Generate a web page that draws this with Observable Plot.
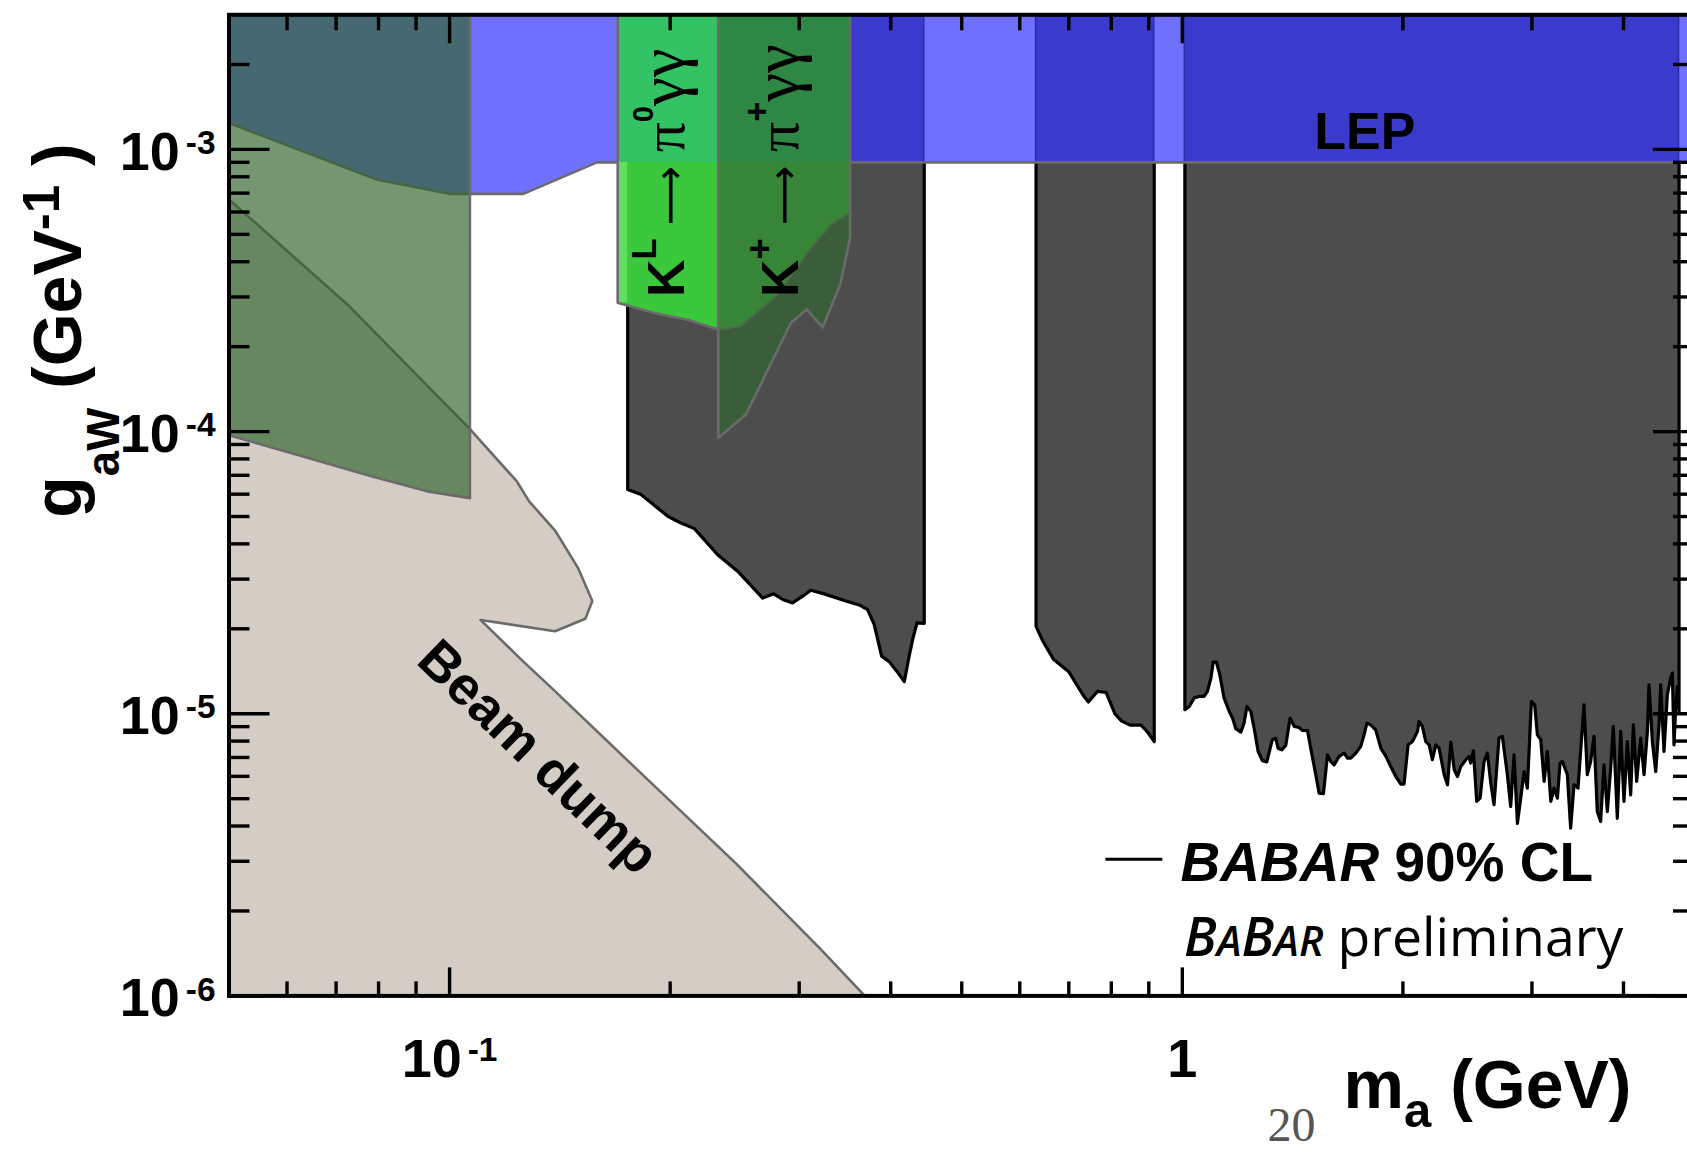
<!DOCTYPE html>
<html><head><meta charset="utf-8">
<script src="https://cdn.jsdelivr.net/npm/d3@7"></script>
<script src="https://cdn.jsdelivr.net/npm/@observablehq/plot@0.6"></script>
<style>
html,body{margin:0;padding:0;background:#fff;overflow:hidden;}
#chart svg{display:block;max-width:none;}
</style>
</head><body><div id="chart"></div>
<script>
// ---------------- data (m_a in GeV, g_aW in GeV^-1) ----------------
const xDomain = [0.05, 5.0];
const yDomain = [1e-6, 3e-3];

const xMajor = [0.1, 1];
const xMinor = [0.06, 0.07, 0.08, 0.09, 0.2, 0.3, 0.4, 0.5, 0.6, 0.7, 0.8, 0.9, 2, 3, 4];
const xTickLabels = ["10^-1", "1"];
const yMajor = [1e-6, 1e-5, 1e-4, 1e-3];
const yMinor = [2e-6,3e-6,4e-6,5e-6,6e-6,7e-6,8e-6,9e-6,2e-5,3e-5,4e-5,5e-5,6e-5,7e-5,8e-5,9e-5,2e-4,3e-4,4e-4,5e-4,6e-4,7e-4,8e-4,9e-4,2e-3];
const yTickLabels = ["10^-6", "10^-5", "10^-4", "10^-3"];

// LEP exclusion, lower edge
const lepMass = [0.05, 0.0794, 0.1, 0.1066, 0.1261, 0.1589, 5.0];
const lepCoupling = [1.24e-3, 7.83e-4, 6.96e-4, 6.96e-4, 6.96e-4, 9.0e-4, 9.0e-4];

// green (upper-left) exclusion, lower edge
const greenMass = [0.05, 0.0782, 0.0932, 0.1066];
const greenCoupling = [9.71e-5, 6.94e-5, 6.14e-5, 5.81e-5];

// beam dump outline
const beamMass = [0.05, 0.073, 0.1066, 0.1235, 0.1284, 0.1393, 0.1497, 0.1566, 0.1532, 0.1393, 0.1102, 0.1261, 0.138, 0.1841, 0.2459, 0.3221, 0.3687, 0.05];
const beamCoupling = [6.65e-4, 2.78e-4, 1.02e-4, 6.67e-5, 5.66e-5, 4.46e-5, 3.29e-5, 2.51e-5, 2.17e-5, 1.96e-5, 2.15e-5, 1.53e-5, 1.23e-5, 6.02e-6, 2.95e-6, 1.45e-6, 1e-6, 1e-6];

// K_L -> pi0 gamma gamma, lower edge
const klMass = [0.1696, 0.1903, 0.2113, 0.2326];
const klCoupling = [2.86e-4, 2.63e-4, 2.49e-4, 2.30e-4];
// K_L limit continuing under the K+ band
const klTailMass = [0.2326, 0.2498, 0.2804, 0.3112, 0.3315, 0.352];
const klTailCoupling = [2.30e-4, 2.36e-4, 3.06e-4, 4.48e-4, 5.42e-4, 5.96e-4];
// K+ -> pi+ gamma gamma, lower edge
const kpMass = [0.2326, 0.2538, 0.2923, 0.3071, 0.3229, 0.3413, 0.352];
const kpCoupling = [9.49e-5, 1.15e-4, 2.43e-4, 2.71e-4, 2.34e-4, 3.32e-4, 4.86e-4];

// BABAR 90% CL limit, three mass windows
const babar1Mass = [0.175,0.1825,0.1985,0.2069,0.2158,0.2322,0.2472,0.2675,0.2769,0.2849,0.2938,0.3033,0.3112,0.3246,0.3456,0.3623,0.3719,0.3798,0.3887,0.3981,0.4097,0.4174,0.4232,0.4285,0.4344,0.4444];
const babar1Coupling = [6.23e-5,5.98e-5,5.01e-5,4.74e-5,4.53e-5,3.66e-5,3.20e-5,2.57e-5,2.66e-5,2.54e-5,2.47e-5,2.61e-5,2.74e-5,2.66e-5,2.52e-5,2.43e-5,2.34e-5,2.07e-5,1.60e-5,1.53e-5,1.39e-5,1.30e-5,1.57e-5,1.83e-5,2.10e-5,2.09e-5];
const babar2Mass = [0.6315,0.6444,0.6669,0.6998,0.7145,0.7343,0.7445,0.7655,0.787,0.809,0.8256,0.8487,0.8784,0.8969,0.9155];
const babar2Coupling = [2.04e-5,1.82e-5,1.56e-5,1.41e-5,1.29e-5,1.15e-5,1.10e-5,1.20e-5,1.19e-5,1.00e-5,9.43e-6,9.11e-6,9.11e-6,8.60e-6,7.96e-6];
const babar3Mass = [1.008,1.022,1.038,1.054,1.071,1.082,1.094,1.102,1.113,1.125,
1.140,1.159,1.171,1.183,1.202,1.214,1.225,1.240,1.253,1.269,
1.286,1.304,1.318,1.327,1.341,1.351,1.367,1.384,1.403,1.421,
1.443,1.458,1.482,1.497,1.521,1.537,1.558,1.578,1.594,1.611,
1.637,1.663,1.680,1.698,1.725,1.752,1.770,1.786,1.807,1.836,
1.866,1.896,1.925,1.956,1.987,2.007,2.033,2.061,2.094,2.104,
2.126,2.149,2.172,2.194,2.218,2.241,2.277,2.301,2.325,2.350,
2.374,2.399,2.437,2.462,2.475,2.496,2.522,2.549,2.581,2.608,
2.636,2.663,2.705,2.734,2.777,2.806,2.836,2.866,2.896,2.927,
2.957,2.995,3.026,3.052,3.084,3.117,3.149,3.183,3.216,3.250,
3.277,3.301,3.353,3.388,3.424,3.467,3.533,3.570,3.608,3.646,
3.684,3.723,3.762,3.802,3.842,3.874,3.923,3.965,4.006,4.049,
4.091,4.126,4.169,4.222,4.267,4.312,4.334,4.380,4.426,4.473,
4.496,4.543,4.591,4.639,4.664,4.688,4.713,4.738,4.763];
const babar3Coupling = [1.033e-5,1.061e-5,1.137e-5,1.152e-5,1.152e-5,1.200e-5,1.338e-5,1.525e-5,1.525e-5,1.375e-5,
1.137e-5,1.019e-5,9.65e-6,8.85e-6,8.61e-6,9.26e-6,1.061e-5,1.019e-5,8.90e-6,7.35e-6,
6.82e-6,6.75e-6,7.55e-6,8.09e-6,8.20e-6,7.55e-6,7.45e-6,7.72e-6,9.65e-6,9.02e-6,
8.94e-6,8.73e-6,8.71e-6,7.55e-6,6.08e-6,5.23e-6,5.21e-6,7.15e-6,6.78e-6,6.59e-6,
7.06e-6,7.25e-6,6.96e-6,6.96e-6,7.25e-6,7.66e-6,8.42e-6,9.26e-6,9.14e-6,8.77e-6,
7.55e-6,7.06e-6,6.50e-6,5.99e-6,5.63e-6,5.63e-6,7.76e-6,7.97e-6,8.66e-6,9.39e-6,
9.02e-6,7.97e-6,7.76e-6,6.87e-6,7.76e-6,7.55e-6,6.08e-6,5.60e-6,7.93e-6,6.33e-6,
5.99e-6,6.50e-6,6.87e-6,7.06e-6,6.69e-6,7.39e-6,4.89e-6,5.02e-6,6.78e-6,7.25e-6,
5.68e-6,4.76e-6,8.20e-6,8.31e-6,6.08e-6,4.69e-6,7.15e-6,4.09e-6,5.02e-6,6.24e-6,
5.45e-6,1.106e-5,1.076e-5,8.42e-6,8.09e-6,5.76e-6,7.35e-6,4.89e-6,5.45e-6,5.02e-6,
6.69e-6,6.78e-6,6.08e-6,3.93e-6,5.60e-6,5.45e-6,1.076e-5,6.08e-6,6.78e-6,8.31e-6,
4.50e-6,4.15e-6,6.59e-6,4.50e-6,6.41e-6,9.02e-6,4.26e-6,8.66e-6,4.89e-6,7.97e-6,
5.16e-6,9.14e-6,5.76e-6,8.20e-6,6.08e-6,8.66e-6,1.267e-5,7.97e-6,6.24e-6,9.14e-6,
1.267e-5,7.35e-6,1.168e-5,1.338e-5,1.393e-5,7.76e-6,1.047e-5,1.249e-5,1.019e-5];

// annotation anchors (data coordinates)
const lepLabelAt = {x: 1.774, y: 1.0e-3};
const beamLabelAt = {x: 0.132, y: 7.0e-6};
const klLabelAt = {x: 0.2089, y: 3.0e-4};
const kpLabelAt = {x: 0.2988, y: 3.0e-4};
const legendLine = {x1: 0.7865, x2: 0.9406, y: 3.05e-6};

// ---------------- layout ----------------
const W = 1700, H = 1152;
const mL = 228.5, mR = 6, mT = 14.3, mB = 156.6;
const fw = W - mL - mR, fh = H - mT - mB;
const TOP = yDomain[1];
const SANS = "'Liberation Sans', Arimo, Arial, Helvetica, sans-serif";
const SERIF = "'Liberation Serif', 'DejaVu Serif', serif";
const ARROW = "'DejaVu Sans', sans-serif";
const AVENIR = "'Open Sans', Lato, 'Noto Sans', sans-serif";

const pts = (xs, ys) => xs.map((x, i) => ({x, y: ys[i]}));
const toTop = (xs, ys) => [{x: xs[0], y: TOP}, ...pts(xs, ys), {x: xs[xs.length - 1], y: TOP}];
const lepLevel = lepCoupling[lepCoupling.length - 1];

const babarSegs = [[babar1Mass, babar1Coupling], [babar2Mass, babar2Coupling], [babar3Mass, babar3Coupling]];
const babarBands = babarSegs.map(([m]) => ({x1: m[0], x2: m[m.length - 1]}));

const greenPoly = [{x: greenMass[0], y: TOP}, {x: greenMass[greenMass.length - 1], y: TOP}, ...pts(greenMass, greenCoupling).reverse()];
const klPoly = toTop(klMass, klCoupling);
const kpPoly = toTop(kpMass, kpCoupling);
const kpDark = [...pts(klTailMass, klTailCoupling), ...pts(kpMass, kpCoupling).reverse()];

// rich text registry
const RICH = {};
const rk = (key, segs) => { RICH[key] = segs; return key; };

const klKey = rk("KL->pi0gg", [
  {t: "K", weight: "bold"}, {t: "L", size: 0.66, shift: -0.54, weight: "bold"},
  {t: " \u27f6 ", weight: "normal", family: ARROW, size: 0.8},
  {t: "\u03c0", weight: "normal", family: SERIF, size: 1.15}, {t: "0", size: 0.56, shift: -0.6, weight: "bold"},
  {t: "\u03b3\u03b3", weight: "normal", family: SERIF, size: 1.25}
]);
const kpKey = rk("K+->pi+gg", [
  {t: "K", weight: "bold"}, {t: "+", size: 0.7, shift: -0.5, weight: "bold"},
  {t: " \u27f6 ", weight: "normal", family: ARROW, size: 0.8},
  {t: "\u03c0", weight: "normal", family: SERIF, size: 1.15}, {t: "+", size: 0.66, shift: -0.55, weight: "bold"},
  {t: "\u03b3\u03b3", weight: "normal", family: SERIF, size: 1.25}
]);
const yTitleKey = rk("g_aW (GeV^-1 )", [
  {t: "g"}, {t: "aW", size: 0.67, shift: 0.57}, {t: " (GeV"}, {t: "-1", size: 0.75, shift: -0.31}, {t: " )"}
]);
const xTitleKey = rk("m_a (GeV)", [{t: "m"}, {t: "a", size: 0.72, shift: 0.29}, {t: " (GeV)"}]);
const leg1Key = rk("BABAR 90% CL", [{t: "BABAR", style: "italic"}, {t: " 90% CL"}]);
const leg2Key = rk("BaBar preliminary", [
  {t: "B", style: "italic", weight: 600}, {t: "A", style: "italic", weight: 600, size: 0.78},
  {t: "B", style: "italic", weight: 600}, {t: "AR", style: "italic", weight: 600, size: 0.78},
  {t: " preliminary", weight: 500}
]);

const xTicks = xMajor.map((v, i) => ({v, label: xTickLabels[i]}));
const yTicks = yMajor.map((v, i) => ({v, label: yTickLabels[i]}));
const tickStyle = {stroke: "#000", strokeWidth: 3.4};
const edge = {stroke: "#6b6b6b", strokeWidth: 2.6};

const marks = [
  // beam dump
  Plot.line(pts(beamMass, beamCoupling), {x: "x", y: "y", curve: "linear-closed", fill: "#d3cdc6", ...edge, clip: true}),
  // BABAR excluded regions
  ...babarSegs.map(([m, c]) => Plot.line(toTop(m, c), {x: "x", y: "y", curve: "linear-closed", fill: "#4d4d4d", stroke: "#000", strokeWidth: 3.2, clip: true})),
  // LEP band
  Plot.areaY(pts(lepMass, lepCoupling), {x: "x", y1: "y", y2: TOP, fill: "#7070ff", clip: true}),
  Plot.rect(babarBands, {x1: "x1", x2: "x2", y1: lepLevel, y2: TOP, fill: "#3a3acc", stroke: "#2c2ca8", strokeWidth: 1.5, clip: true}),
  Plot.line(pts(lepMass, lepCoupling), {x: "x", y: "y", ...edge, clip: true}),
  // green translucent region (upper left)
  Plot.line(greenPoly, {x: "x", y: "y", curve: "linear-closed", fill: "rgb(50,101,45)", fillOpacity: 0.68, ...edge, clip: true}),
  // K_L band
  Plot.line(klPoly, {x: "x", y: "y", curve: "linear-closed", fill: "#3cc83c", clip: true}),
  Plot.rect([{x1: klMass[0], x2: klMass[klMass.length - 1]}], {x1: "x1", x2: "x2", y1: lepLevel, y2: TOP, fill: "#33c264", clip: true}),
  Plot.rect([{x1: klMass[0], x2: babar1Mass[0]}], {x1: "x1", x2: "x2", y1: klCoupling[0], y2: lepLevel, fill: "#5ee05e", clip: true}),
  Plot.line(klPoly, {x: "x", y: "y", curve: "linear-closed", fill: "none", ...edge, clip: true}),
  // K+ band
  Plot.line(kpPoly, {x: "x", y: "y", curve: "linear-closed", fill: "#378637", clip: true}),
  Plot.line(kpDark, {x: "x", y: "y", curve: "linear-closed", fill: "#3a5e3a", stroke: "#4a6a4a", strokeWidth: 2, clip: true}),
  Plot.rect([{x1: kpMass[0], x2: kpMass[kpMass.length - 1]}], {x1: "x1", x2: "x2", y1: lepLevel, y2: TOP, fill: "#2e8745", clip: true}),
  Plot.line(kpPoly, {x: "x", y: "y", curve: "linear-closed", fill: "none", ...edge, clip: true}),
  // region labels
  Plot.text([lepLabelAt], {x: "x", y: "y", text: () => "LEP", fontFamily: SANS, fontWeight: "bold", fontSize: 52, textAnchor: "middle", lineAnchor: "bottom"}),
  Plot.text([beamLabelAt], {x: "x", y: "y", text: () => "Beam dump", fontFamily: SANS, fontWeight: "bold", fontSize: 54, rotate: 44, textAnchor: "middle", lineAnchor: "middle"}),
  Plot.text([klLabelAt], {x: "x", y: "y", text: () => klKey, fontFamily: SANS, fontWeight: "bold", fontSize: 52, rotate: -90, textAnchor: "start", lineAnchor: "bottom"}),
  Plot.text([kpLabelAt], {x: "x", y: "y", text: () => kpKey, fontFamily: SANS, fontWeight: "bold", fontSize: 52, rotate: -90, textAnchor: "start", lineAnchor: "bottom"}),
  // legend
  Plot.ruleY([legendLine], {y: "y", x1: "x1", x2: "x2", stroke: "#000", strokeWidth: 3}),
  Plot.text([leg1Key], {text: d => d, frameAnchor: "top-left", dx: 951.5, dy: 866, fontFamily: SANS, fontWeight: "bold", fontSize: 55, textAnchor: "start", lineAnchor: "bottom"}),
  Plot.text([leg2Key], {text: d => d, frameAnchor: "top-left", dx: 955, dy: 941, fontFamily: AVENIR, fontSize: 53.5, textAnchor: "start", lineAnchor: "bottom"}),
  // ticks (inward, all four sides)
  Plot.ruleX(xMajor, {x: d => d, insetTop: fh - 28, ...tickStyle}),
  Plot.ruleX(xMinor, {x: d => d, insetTop: fh - 14, ...tickStyle}),
  Plot.ruleX(xMajor, {x: d => d, insetBottom: fh - 29, ...tickStyle}),
  Plot.ruleX(xMinor, {x: d => d, insetBottom: fh - 16, ...tickStyle}),
  Plot.ruleY(yMajor, {y: d => d, insetRight: fw - 41, ...tickStyle}),
  Plot.ruleY(yMinor, {y: d => d, insetRight: fw - 21, ...tickStyle}),
  Plot.ruleY(yMajor, {y: d => d, insetLeft: fw - 41, ...tickStyle}),
  Plot.ruleY(yMinor, {y: d => d, insetLeft: fw - 21, ...tickStyle}),
  Plot.frame({stroke: "#000", strokeWidth: 4}),
  // tick labels
  Plot.text(xTicks, {x: "v", text: "label", frameAnchor: "bottom", dy: 80.6, textAnchor: "middle", lineAnchor: "bottom", fontFamily: SANS, fontWeight: "bold", fontSize: 54}),
  Plot.text(yTicks, {y: "v", text: "label", frameAnchor: "left", dx: -13.5, dy: 3, textAnchor: "end", lineAnchor: "middle", fontFamily: SANS, fontWeight: "bold", fontSize: 54}),
  // axis titles
  Plot.text([yTitleKey], {text: d => d, frameAnchor: "top-left", dx: -148.5, dy: 315.7, rotate: -90, textAnchor: "middle", lineAnchor: "bottom", fontFamily: SANS, fontWeight: "bold", fontSize: 68}),
  Plot.text([xTitleKey], {text: d => d, frameAnchor: "top-left", dx: 1402.5, dy: 1092.7, textAnchor: "end", lineAnchor: "bottom", fontFamily: SANS, fontWeight: "bold", fontSize: 68}),
  // slide page number
  Plot.text(["20"], {text: d => d, frameAnchor: "top-left", dx: 1062.5, dy: 1125.7, textAnchor: "middle", lineAnchor: "bottom", fontFamily: SERIF, fontSize: 48, fill: "#555"})
];

const plot = Plot.plot({
  width: W, height: H,
  marginLeft: mL, marginRight: mR, marginTop: mT, marginBottom: mB,
  x: {type: "log", domain: xDomain, axis: null},
  y: {type: "log", domain: yDomain, axis: null},
  style: {background: "white", maxWidth: "none", overflow: "hidden"},
  marks
});
document.getElementById("chart").appendChild(plot);

// ---------------- rich text (sub/superscripts) ----------------
const NS = "http://www.w3.org/2000/svg";
function applyRich(t, segs) {
  const base = parseFloat(getComputedStyle(t).fontSize) || 10;
  t.textContent = "";
  t.style.whiteSpace = "pre";
  let cur = 0;
  for (const s of segs) {
    const ts = document.createElementNS(NS, "tspan");
    const off = (s.shift || 0) * base;
    if (off - cur !== 0) ts.setAttribute("dy", (off - cur).toFixed(2));
    cur = off;
    ts.setAttribute("font-size", ((s.size || 1) * base).toFixed(2));
    if (s.weight !== undefined) ts.setAttribute("font-weight", s.weight);
    if (s.style) ts.setAttribute("font-style", s.style);
    if (s.family) ts.setAttribute("font-family", s.family);
    if (s.dx) ts.setAttribute("dx", (s.dx * base).toFixed(2));
    ts.textContent = s.t;
    t.appendChild(ts);
  }
}
plot.querySelectorAll("text").forEach(t => {
  const key = t.textContent;
  if (RICH[key]) { applyRich(t, RICH[key]); return; }
  const m = /^10\^(-?\d+)$/.exec(key);
  if (m) applyRich(t, [{t: "10"}, {t: m[1], size: 0.62, shift: -0.29, dx: 0.11}]);
});
</script></body></html>
